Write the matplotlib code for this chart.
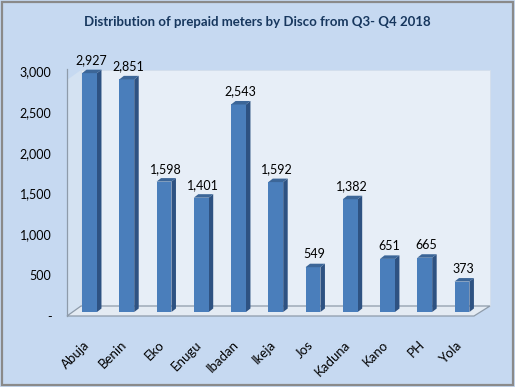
import matplotlib
matplotlib.use("Agg")
import matplotlib.pyplot as plt
from matplotlib.patches import Polygon, Rectangle
from matplotlib.transforms import ScaledTranslation, Affine2D, IdentityTransform
import numpy as np

categories = ["Abuja", "Benin", "Eko", "Enugu", "Ibadan", "Ikeja", "Jos", "Kaduna", "Kano", "PH", "Yola"]
values = [2927, 2851, 1598, 1401, 2543, 1592, 549, 1382, 651, 665, 373]
yticks = [0, 500, 1000, 1500, 2000, 2500, 3000]
ytick_labels = ["-", "500", "1,000", "1,500", "2,000", "2,500", "3,000"]
title = "Distribution of prepaid meters by Disco from Q3- Q4 2018"

W, H = 515, 387
FONT = ["Lato", "DejaVu Sans"]
plt.rcParams["font.family"] = FONT

fig = plt.figure(figsize=(W / 100, H / 100), dpi=100)
fig.patch.set_facecolor("#C6D9F1")

# pixel (top-left origin) -> figure fraction
px = Affine2D().scale(1 / W, -1 / H).translate(0, 1) + fig.transFigure

def fpatch(p):
    p.set_zorder(-5)
    fig.patches.append(p)

# outer border
fpatch(Rectangle((1.5, 1.5), W - 3.5, H - 3.5, transform=px, fill=False,
                 edgecolor="#8A8A8A", linewidth=1.6))
# back wall
fpatch(Polygon([(81, 70), (490, 70), (490, 306), (81, 306)], closed=True,
               transform=px, facecolor="#E7EEF7", edgecolor="#D3DEEB", linewidth=0.6))
# left wall
fpatch(Polygon([(67, 80), (81, 70), (81, 306), (67, 316)], closed=True,
               transform=px, facecolor="#D4E2F2", edgecolor="none"))
# floor
fpatch(Polygon([(67, 316), (474, 316), (490, 306), (81, 306)], closed=True,
               transform=px, facecolor="#E4EBF3", edgecolor="#8E9BAA", linewidth=0.9))
# y axis line
ln = plt.Line2D([67, 67], [69, 316], transform=px, color="#8E9BAA", linewidth=0.9, zorder=-4)
fig.lines.append(ln)

# axes: y=0 at pixel 312, 3000 at pixel 67.2 ; x centers 89.5 .. 462
left_px, right_px = 70.9, 480.6
bot_px, top_px = 312, 67.2
ax = fig.add_axes([left_px / W, 1 - bot_px / H, (right_px - left_px) / W, (bot_px - top_px) / H])
ax.set_zorder(5)
ax.set_facecolor("none")
ax.set_xlim(-0.5, len(categories) - 0.5)
ax.set_ylim(0, 3000)
for s in ax.spines.values():
    s.set_visible(False)

x = np.arange(len(categories))
bw = 0.40
front = "#4A7EBB"
side = "#2E5282"
topc = "#3C6698"

bars = ax.bar(x, values, width=bw, color=front, edgecolor="none", zorder=3)
dxp, dyp = 4.5, 3.5  # pixels
disp = ax.transData
for b in bars:
    x0 = b.get_x()
    x1 = x0 + b.get_width()
    h = b.get_height()
    p_bl = disp.transform((x1, 0))
    p_tl = disp.transform((x1, h))
    side_poly = Polygon(np.array([p_bl, p_tl, p_tl + [dxp, dyp], p_bl + [dxp, dyp]]), closed=True,
                        transform=IdentityTransform(), facecolor=side, edgecolor="none", zorder=2)
    ax.add_patch(side_poly)
    q_l = disp.transform((x0, h))
    q_r = disp.transform((x1, h))
    top_poly = Polygon(np.array([q_l, q_r, q_r + [dxp, dyp], q_l + [dxp, dyp]]), closed=True,
                       transform=IdentityTransform(), facecolor=topc, edgecolor="none", zorder=4)
    ax.add_patch(top_poly)
    ax.annotate(f"{h:,.0f}", (b.get_x() + b.get_width() / 2, h), xytext=(1, 5),
                textcoords="offset points", ha="center", va="bottom", fontsize=9, color="#000000")

ax.set_yticks(yticks)
ax.set_yticklabels(ytick_labels, fontsize=9)
ax.tick_params(axis="y", length=0, pad=14)
shift = ScaledTranslation(0, -4 / 100, fig.dpi_scale_trans)
for lab in ax.get_yticklabels():
    lab.set_transform(lab.get_transform() + shift)

ax.set_xticks(x)
ax.set_xticklabels(categories, fontsize=9.5, rotation=45, ha="right", rotation_mode="anchor")
ax.tick_params(axis="x", length=0, pad=17)
xshift = ScaledTranslation(-6 / 100, -3 / 100, fig.dpi_scale_trans)
for lab in ax.get_xticklabels():
    lab.set_transform(lab.get_transform() + xshift)

fig.text(0.5, 1 - 22 / H, title, ha="center", va="center", fontsize=9.5, fontweight="bold",
         color="#17375E")

fig.savefig("out.png", dpi=100, facecolor=fig.get_facecolor())
